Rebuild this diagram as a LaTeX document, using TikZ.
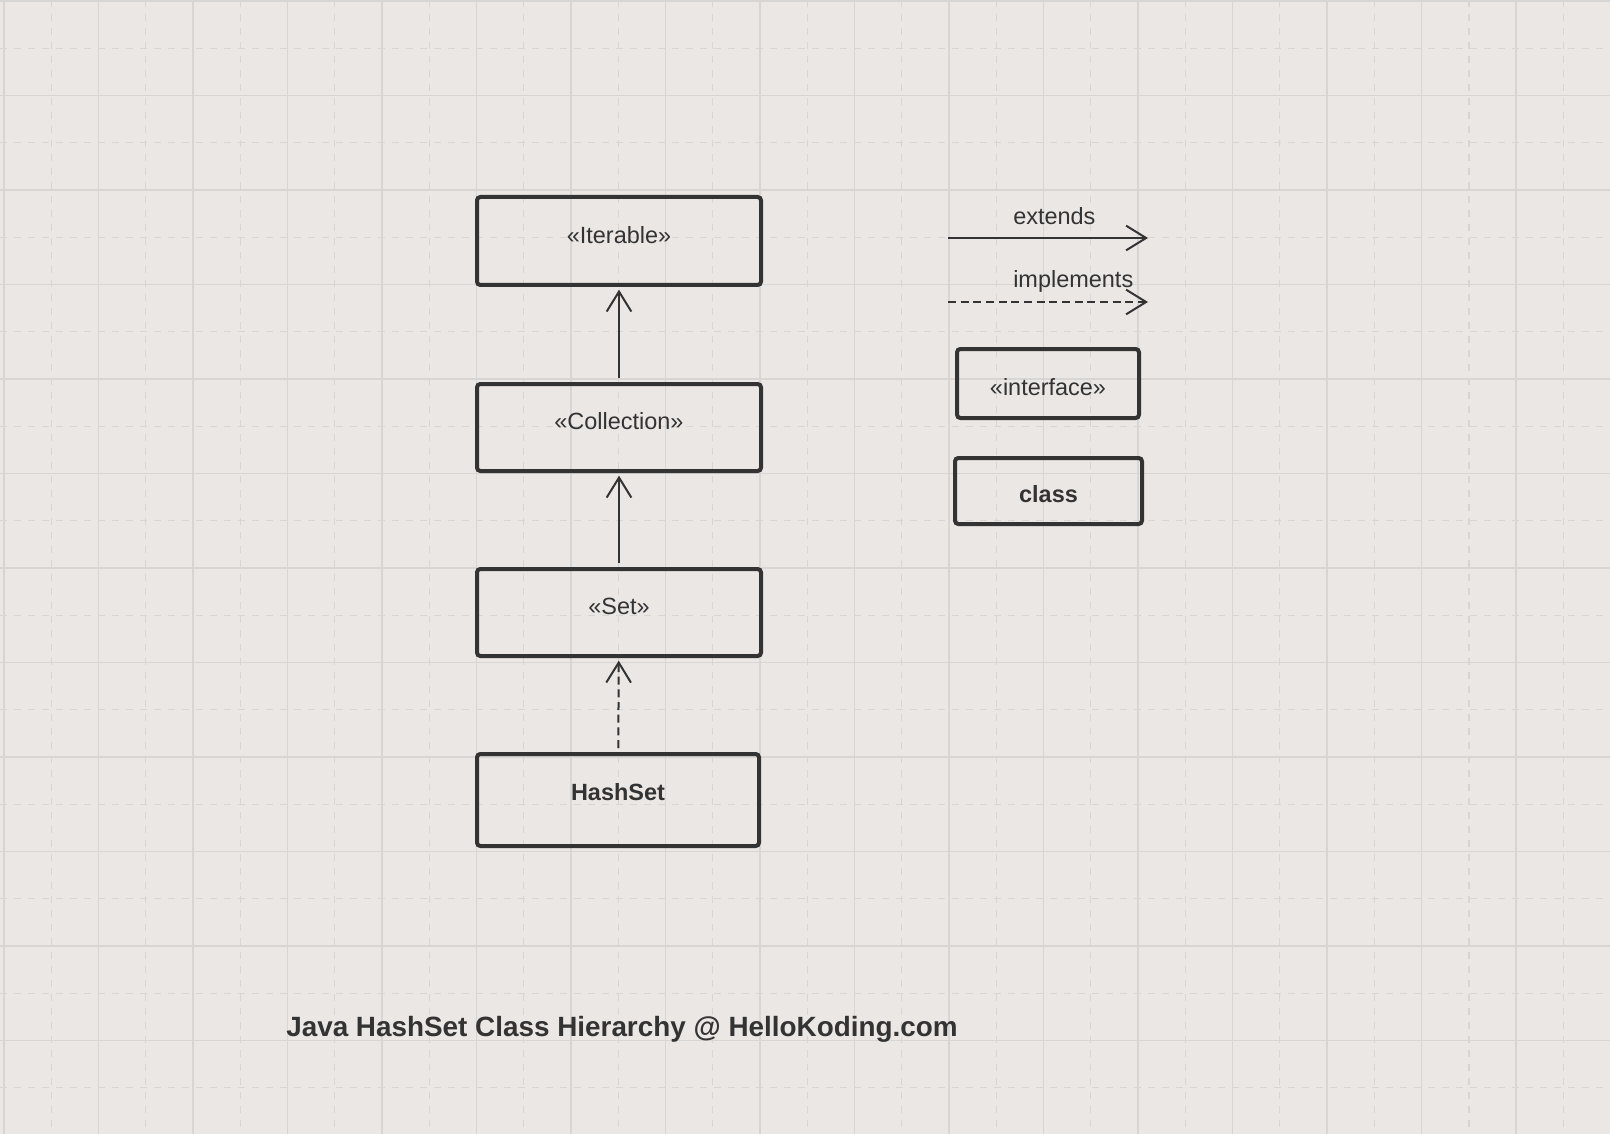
\documentclass[tikz,border=0pt]{standalone}
\usepackage{fontspec}
\setmainfont{Liberation Sans}
\usepackage{tikz}
\usetikzlibrary{arrows.meta}
\definecolor{paperbg}{HTML}{EAE7E4}
\definecolor{gridclr}{HTML}{D8D6D4}
\definecolor{inkclr}{HTML}{333333}

\begin{document}
\begin{tikzpicture}[
    x=0.75pt, y=-0.75pt,
    font=\fontsize{17.6pt}{21pt}\selectfont,
    gridmajor/.style={draw=gridclr, line width=1.1pt},
    gridminor/.style={draw=gridclr, line width=1.1pt,
                      dash pattern=on 5.5pt off 5pt},
    typebox/.style={
      draw=inkclr, line width=3pt, rounded corners=2.5pt,
      rectangle, inner sep=0pt, text=inkclr,
      text height=0.72em, text depth=0.4em,
    },
    legendbox/.style={
      typebox, text height=1.75em, text depth=0pt,
    },
    extendsarrow/.style={-{Straight Barb[length=15pt, width=18.5pt]},
                         line width=1.5pt, color=inkclr},
    implementsarrow/.style={extendsarrow, dash pattern=on 6pt off 3.5pt},
    legendlabel/.style={anchor=base west, inner sep=0pt, text=inkclr},
  ]

  % -----------------------------------------------------------
  % Paper and grid
  % -----------------------------------------------------------
  \fill[paperbg] (0,0) rectangle (1610,1134);
  \useasboundingbox (0,0) rectangle (1610,1134);
  \foreach \gx in {0,...,16} {
    \draw[gridmajor] ({4+94.5*\gx},0) -- ({4+94.5*\gx},1134);
    \draw[gridminor] ({51.25+94.5*\gx},0) -- ({51.25+94.5*\gx},1134);
  }
  \foreach \gy in {0,...,11} {
    \draw[gridmajor] (0,{1+94.5*\gy}) -- (1610,{1+94.5*\gy});
    \draw[gridminor] (0,{48.25+94.5*\gy}) -- (1610,{48.25+94.5*\gy});
  }

  % -----------------------------------------------------------
  % Hierarchy column
  % -----------------------------------------------------------
  \node[typebox, minimum width=284*0.75pt, minimum height=88*0.75pt]
       (iterable)   at (619, 241)   {«Iterable»};
  \node[typebox, minimum width=284*0.75pt, minimum height=87*0.75pt]
       (collection) at (619, 427.5) {«Collection»};
  \node[typebox, minimum width=284*0.75pt, minimum height=87*0.75pt]
       (set)        at (619, 612.5) {«Set»};
  \node[typebox, text depth=0.65em,
        minimum width=282*0.75pt, minimum height=92*0.75pt]
       (hashset)    at (618, 800)   {\bfseries HashSet};

  \draw[extendsarrow, shorten <=3pt, shorten >=2pt] (collection) -- (iterable);
  \draw[extendsarrow, shorten <=3pt, shorten >=2pt] (set) -- (collection);
  \draw[implementsarrow, shorten <=3pt, shorten >=2pt] (hashset) -- (set);

  % -----------------------------------------------------------
  % Legend
  % -----------------------------------------------------------
  \coordinate (extstart)  at (948, 238);
  \coordinate (extend)    at (1148, 238);
  \coordinate (implstart) at (948, 302);
  \coordinate (implend)   at (1148, 302);

  \draw[extendsarrow]    (extstart)  -- (extend);
  \draw[implementsarrow] (implstart) -- (implend);
  \node[legendlabel] (extlabel)  at (1013, 225) {extends};
  \node[legendlabel] (impllabel) at (1013, 288) {implements};

  \node[legendbox, minimum width=182*0.75pt, minimum height=69*0.75pt]
       (ifacekey) at (1048, 383.5) {«interface»};
  \node[legendbox, minimum width=187*0.75pt, minimum height=66*0.75pt]
       (classkey) at (1048.5, 491) {\bfseries class};

  % -----------------------------------------------------------
  % Title
  % -----------------------------------------------------------
  \node[anchor=west, inner sep=0pt, text=inkclr,
        font=\fontsize{20.9pt}{25pt}\selectfont\bfseries]
       (title) at (286, 1029) {Java HashSet Class Hierarchy @ HelloKoding.com};

\end{tikzpicture}
\end{document}
